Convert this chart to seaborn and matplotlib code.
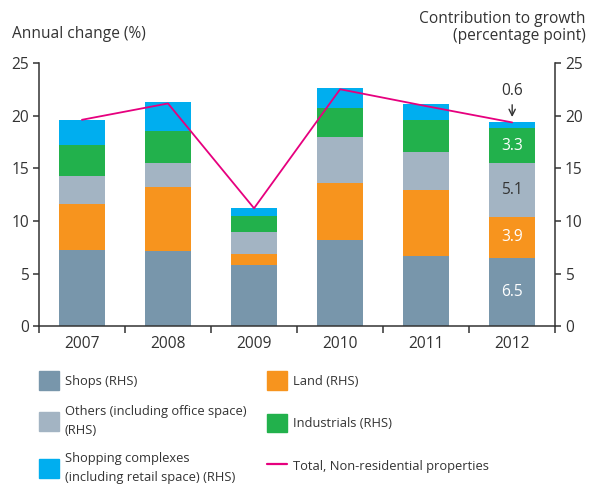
import numpy as np
import pandas as pd
import matplotlib
matplotlib.use("Agg")
import matplotlib.pyplot as plt
import seaborn as sns
from matplotlib.patches import Patch
from matplotlib.lines import Line2D

sns.set_theme(style="white")
plt.rcParams['font.family'] = ['Open Sans', 'DejaVu Sans']

years = ['2007', '2008', '2009', '2010', '2011', '2012']
shops = [7.2, 7.1, 5.8, 8.2, 6.7, 6.5]
land = [4.4, 6.1, 1.1, 5.4, 6.2, 3.9]
others = [2.7, 2.3, 2.0, 4.4, 3.6, 5.1]
industrials = [2.9, 3.0, 1.6, 2.75, 3.1, 3.3]
shopping = [2.4, 2.8, 0.7, 1.9, 1.5, 0.6]
total = [19.6, 21.15, 11.2, 22.5, 20.9, 19.35]

labels = ['Shops (RHS)', 'Land (RHS)', 'Others (including office space)\n(RHS)',
          'Industrials (RHS)', 'Shopping complexes\n(including retail space) (RHS)']
colors = ['#7896ab', '#f7941e', '#a3b4c3', '#22b14c', '#00aeef']
line_color = '#e6007e'
dark = '#333333'
fs = 11.2
lfs = 9.3

df = pd.DataFrame({'year': years, 'shops': shops, 'land': land, 'others': others,
                   'industrials': industrials, 'shopping': shopping})
series = ['shops', 'land', 'others', 'industrials', 'shopping']
cum = df[series].cumsum(axis=1)

fig = plt.figure(figsize=(5.9, 4.84), dpi=100)
ax = fig.add_axes([0.066, 0.326, 0.875, 0.544])

# stacked bars: draw cumulative heights from the top layer down
for s, c in reversed(list(zip(series, colors))):
    sns.barplot(x=df['year'], y=cum[s], color=c, width=0.54, saturation=1,
                linewidth=0, ax=ax)

sns.lineplot(x=np.arange(len(years)), y=total, color=line_color, lw=1.3, ax=ax)

ax.set_xlim(-0.5, 5.5)
ax.set_ylim(0, 25)
ax.set_xlabel('')
ax.set_ylabel('')
ax.set_xticks(np.arange(-0.5, 6, 1))
ax.set_xticklabels([])
ax.set_xticks(np.arange(6), minor=True)
ax.set_xticklabels(years, minor=True)
ax.tick_params(axis='x', which='major', length=5, width=1.1, color=dark, direction='out', bottom=True)
ax.tick_params(axis='x', which='minor', length=0, pad=7, labelsize=fs, labelcolor=dark)
ax.set_yticks(range(0, 26, 5))
ax.tick_params(axis='y', length=4, width=1.1, color=dark, direction='out', left=True,
               labelsize=fs, labelcolor=dark, pad=3)
for side in ['top', 'right']:
    ax.spines[side].set_visible(False)
for side in ['left', 'bottom']:
    ax.spines[side].set_color(dark)
    ax.spines[side].set_linewidth(1.1)

ax2 = ax.twinx()
ax2.set_ylim(0, 25)
ax2.set_yticks(range(0, 26, 5))
ax2.tick_params(axis='y', length=4, width=1.1, color=dark, direction='out', right=True,
                labelsize=fs, labelcolor=dark, pad=3)
for side in ['top', 'left', 'bottom']:
    ax2.spines[side].set_visible(False)
ax2.spines['right'].set_color(dark)
ax2.spines['right'].set_linewidth(1.1)
ax2.grid(False)
ax.grid(False)

# 2012 value labels
i = 5
prev = 0
for s, col in zip(series[:4], ['white', 'white', dark, 'white']):
    v = df[s][i]
    ax.text(i, prev + v / 2, f'{v:.1f}', ha='center', va='center', color=col, fontsize=fs)
    prev += v
ax.annotate(f'{shopping[i]:.1f}', xy=(i, cum['shopping'][i] + 0.2),
            xytext=(i, cum['shopping'][i] + 2.2), ha='center', va='bottom',
            fontsize=fs, color=dark,
            arrowprops=dict(arrowstyle='->', color=dark, lw=1.0))

fig.text(0.02, 0.93, 'Annual change (%)', ha='left', va='center', fontsize=fs, color=dark)
fig.text(0.993, 0.943, 'Contribution to growth\n(percentage point)', ha='right', va='center',
         fontsize=fs, color=dark, linespacing=1.15)

# legend in two columns, built as two legends so each column keeps its own spacing
col1 = [Patch(color=colors[0], label=labels[0]),
        Patch(color=colors[2], label=labels[2]),
        Patch(color=colors[4], label=labels[4])]
col2 = [Patch(color=colors[1], label=labels[1]),
        Patch(color=colors[3], label=labels[3]),
        Line2D([0], [0], color=line_color, lw=1.6, label='Total, Non-residential properties')]
common = dict(loc='upper left', frameon=False, fontsize=lfs, handlelength=1.55,
              handleheight=1.8, handletextpad=0.45, borderpad=0, borderaxespad=0,
              labelcolor=dark)
leg1 = fig.legend(handles=col1, bbox_to_anchor=(0.066, 0.233), labelspacing=1.2, **common)
leg2 = fig.legend(handles=col2, bbox_to_anchor=(0.4525, 0.233), labelspacing=1.9, **common)
for leg in (leg1, leg2):
    for t in leg.get_texts():
        t.set_linespacing(1.55)

fig.savefig('out.png', dpi=100)
